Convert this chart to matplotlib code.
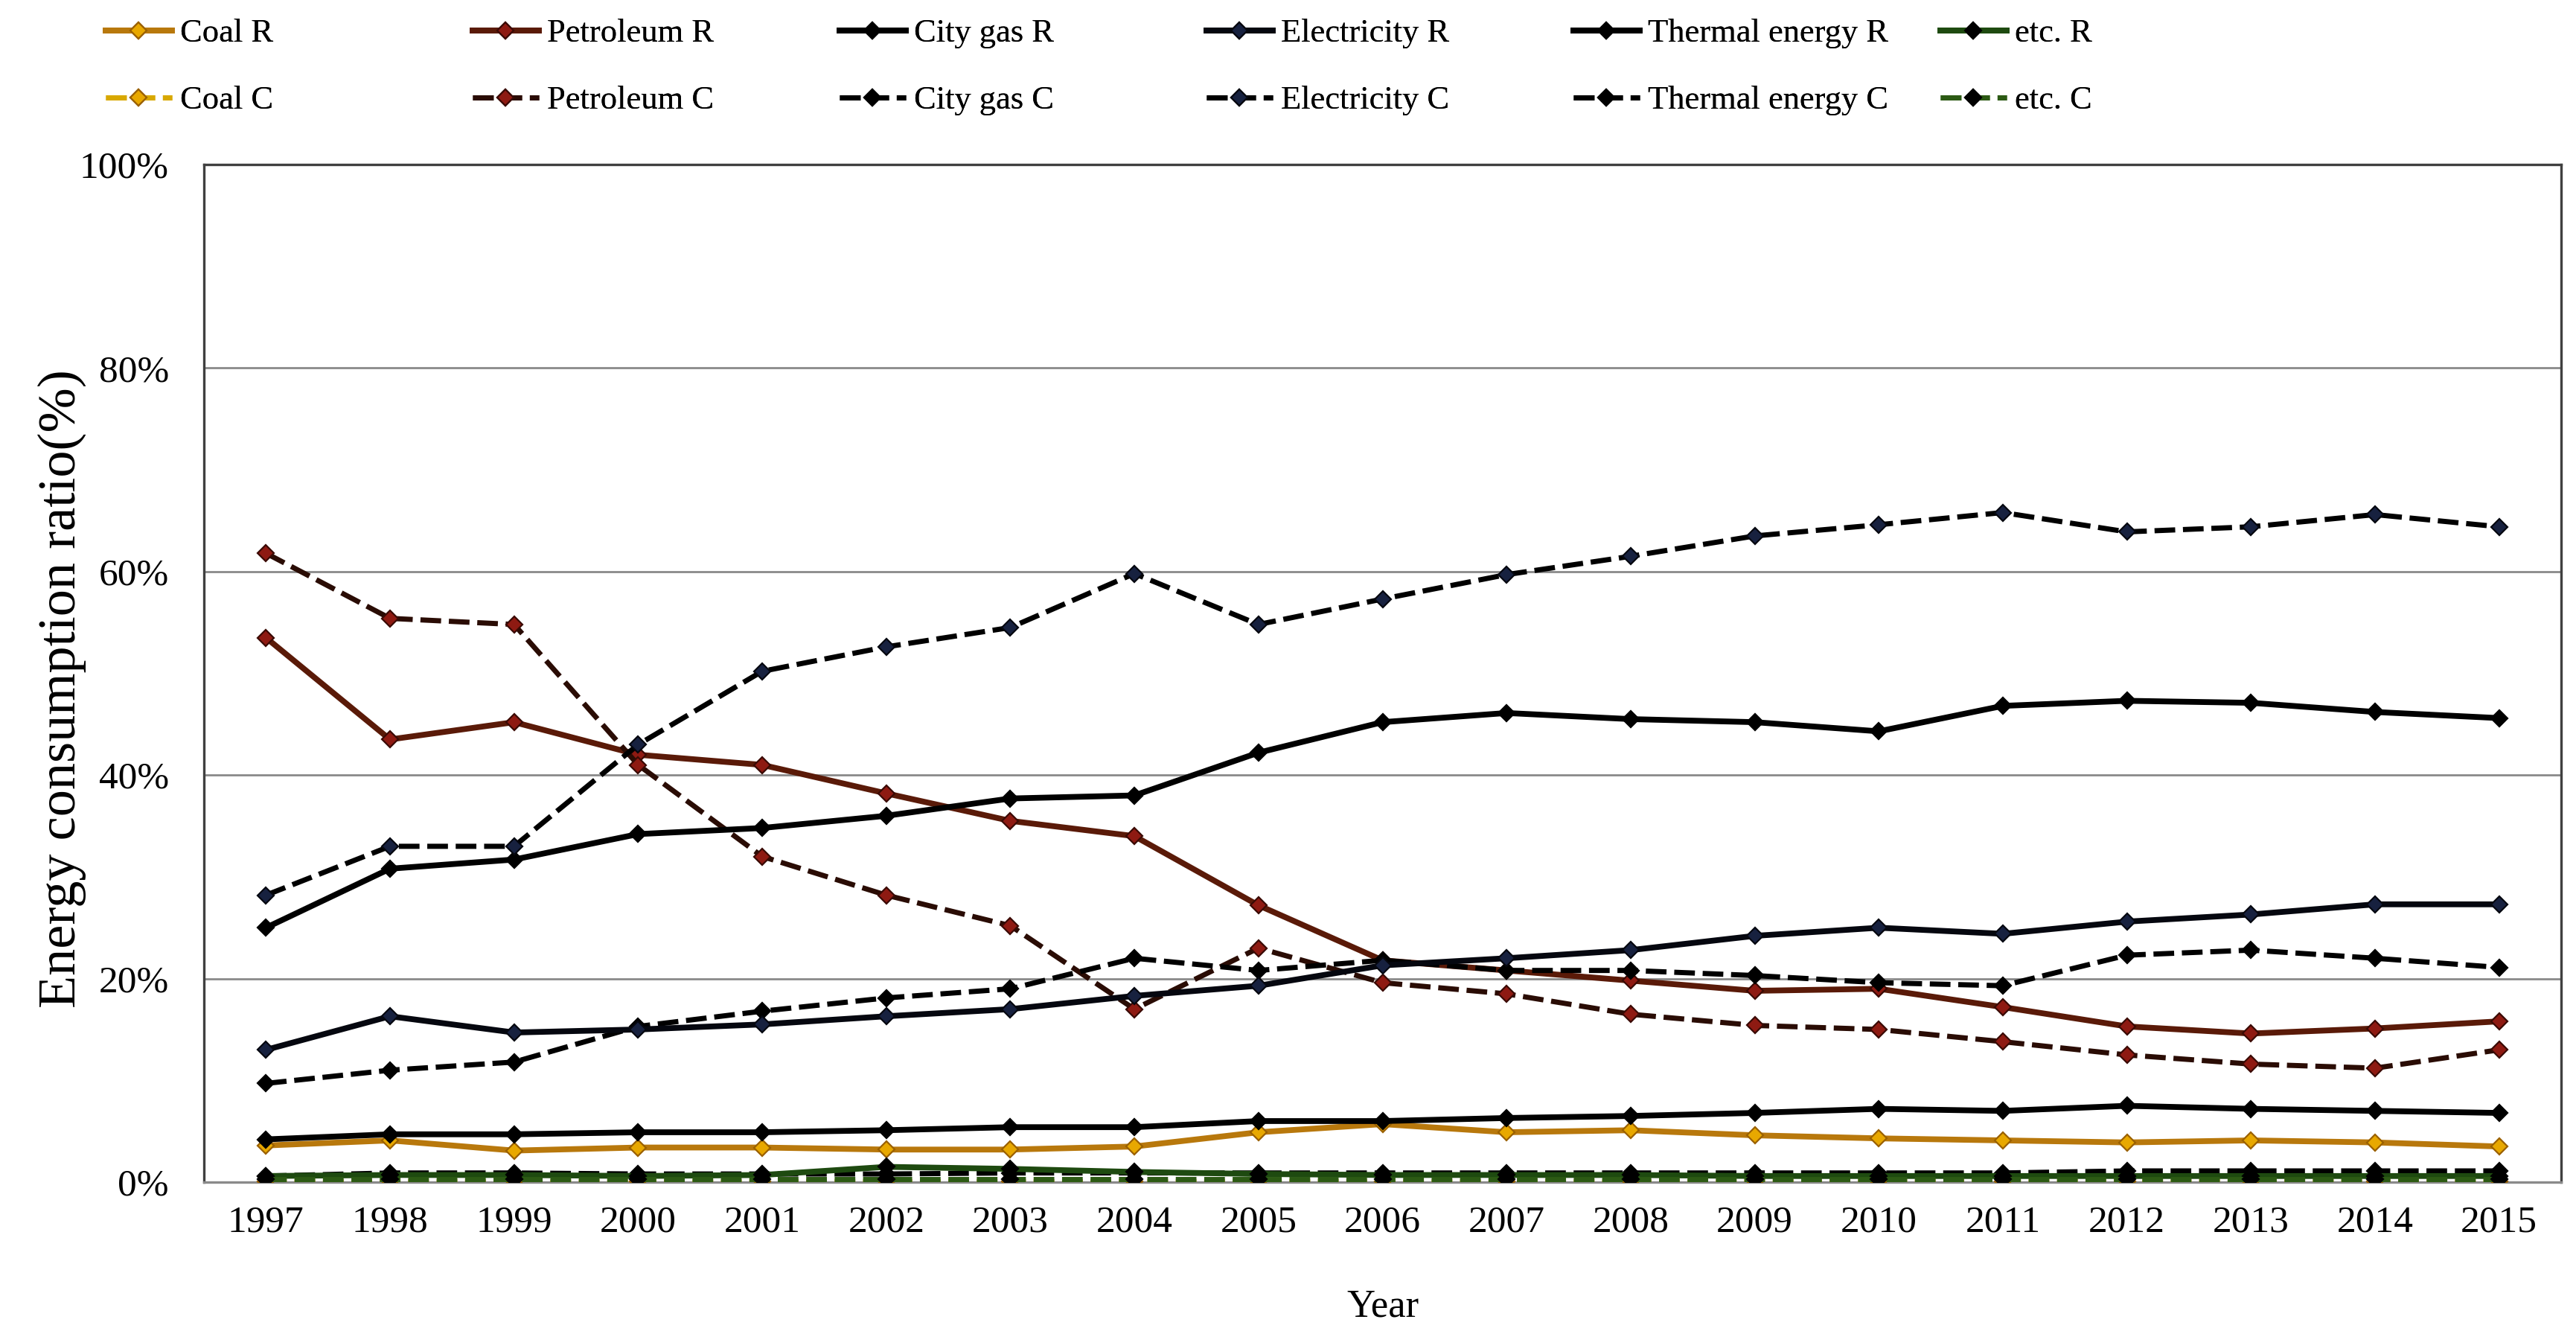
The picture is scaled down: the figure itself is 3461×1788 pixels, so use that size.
import matplotlib
matplotlib.use("Agg")
import matplotlib.pyplot as plt
from matplotlib.ticker import FixedLocator

years = list(range(1997, 2016))

coal_r        = [3.6, 4.1, 3.1, 3.4, 3.4, 3.2, 3.2, 3.5, 4.9, 5.7, 4.9, 5.1, 4.6, 4.3, 4.1, 3.9, 4.1, 3.9, 3.5]
coal_c        = [0.1, 0.1, 0.1, 0.1, 0.1, 0.1, 0.1, 0.1, 0.1, 0.1, 0.1, 0.1, 0.1, 0.1, 0.1, 0.1, 0.1, 0.1, 0.1]
petroleum_r   = [53.5, 43.5, 45.2, 42.0, 41.0, 38.2, 35.5, 34.0, 27.2, 21.8, 20.8, 19.8, 18.8, 19.0, 17.2, 15.3, 14.6, 15.1, 15.8]
petroleum_c   = [61.8, 55.4, 54.8, 41.0, 32.0, 28.2, 25.2, 17.0, 23.0, 19.6, 18.5, 16.5, 15.4, 15.0, 13.8, 12.5, 11.6, 11.2, 13.0]
citygas_r     = [25.0, 30.8, 31.7, 34.2, 34.8, 36.0, 37.7, 38.0, 42.2, 45.2, 46.1, 45.5, 45.2, 44.3, 46.8, 47.3, 47.1, 46.2, 45.6]
citygas_c     = [9.7, 11.0, 11.8, 15.3, 16.8, 18.1, 19.0, 22.0, 20.8, 21.8, 20.8, 20.8, 20.3, 19.6, 19.3, 22.3, 22.8, 22.0, 21.1]
electricity_r = [13.0, 16.3, 14.7, 15.0, 15.5, 16.3, 17.0, 18.3, 19.3, 21.3, 22.0, 22.8, 24.2, 25.0, 24.4, 25.6, 26.3, 27.3, 27.3]
electricity_c = [28.2, 33.0, 33.0, 43.0, 50.2, 52.6, 54.5, 59.8, 54.8, 57.3, 59.7, 61.5, 63.5, 64.6, 65.8, 63.9, 64.4, 65.6, 64.4]
thermal_r     = [4.2, 4.7, 4.7, 4.9, 4.9, 5.1, 5.4, 5.4, 6.0, 6.0, 6.3, 6.5, 6.8, 7.2, 7.0, 7.5, 7.2, 7.0, 6.8]
thermal_c     = [0.6, 0.9, 0.9, 0.8, 0.8, 0.8, 0.9, 0.9, 0.9, 0.9, 0.9, 0.9, 0.9, 0.9, 0.9, 1.1, 1.1, 1.1, 1.1]
etc_r         = [0.6, 0.7, 0.7, 0.6, 0.7, 1.5, 1.3, 1.0, 0.8, 0.7, 0.7, 0.7, 0.6, 0.6, 0.6, 0.6, 0.6, 0.6, 0.6]
etc_c         = [0.3, 0.3, 0.3, 0.3, 0.3, 0.3, 0.3, 0.3, 0.3, 0.3, 0.3, 0.3, 0.3, 0.3, 0.3, 0.3, 0.3, 0.3, 0.3]

y_ticks = [0, 20, 40, 60, 80, 100]
y_tick_labels = ["0%", "20%", "40%", "60%", "80%", "100%"]

series = [
    # label, values, line color, marker face, marker edge, dashed
    ("Coal R", coal_r, "#B8780C", "#E8A800", "#9A6000", False),
    ("Coal C", coal_c, "#D8A800", "#E8A800", "#9A6000", True),
    ("Petroleum R", petroleum_r, "#5A1A08", "#8E1A12", "#3A0A04", False),
    ("Petroleum C", petroleum_c, "#2A0C04", "#8E1A12", "#3A0A04", True),
    ("City gas R", citygas_r, "#000000", "#000000", "#000000", False),
    ("City gas C", citygas_c, "#000000", "#000000", "#000000", True),
    ("Electricity R", electricity_r, "#05070F", "#17213F", "#05070F", False),
    ("Electricity C", electricity_c, "#000000", "#17213F", "#05070F", True),
    ("Thermal energy R", thermal_r, "#000000", "#000000", "#000000", False),
    ("Thermal energy C", thermal_c, "#000000", "#000000", "#000000", True),
    ("etc. R", etc_r, "#1E4A10", "#000000", "#000000", False),
    ("etc. C", etc_c, "#2C5A14", "#000000", "#000000", True),
]

plt.rcParams["font.family"] = ["Liberation Serif", "DejaVu Serif"]

W, H = 3462, 1788
fig = plt.figure(figsize=(W / 200, H / 200), dpi=200)
ax = fig.add_axes([274 / W, 1 - 1588 / H, (3441 - 274) / W, (1588 - 221) / H])

handles = {}
for label, vals, lc, mfc, mec, dashed in series:
    kw = dict(color=lc, marker="D", markersize=5.5, markerfacecolor=mfc,
              markeredgecolor=mec, markeredgewidth=0.8, label=label, zorder=3)
    if dashed:
        (ln,) = ax.plot(years, vals, linewidth=2.5, linestyle=(0, (4, 1.5)), **kw)
    else:
        (ln,) = ax.plot(years, vals, linewidth=2.8, linestyle="-", **kw)
    handles[label] = ln

ax.set_xlim(1996.5, 2015.5)
ax.set_ylim(0, 100)
ax.set_xticks(years)
ax.set_xticklabels([str(y) for y in years])
ax.yaxis.set_major_locator(FixedLocator(y_ticks))
ax.set_yticklabels(y_tick_labels)
ax.tick_params(axis="both", length=0, labelsize=18.5)
ax.tick_params(axis="x", pad=11)
ax.tick_params(axis="y", pad=17)
ax.grid(axis="y", color="#8a8a8a", linewidth=1.0, zorder=0)
ax.set_axisbelow(True)
for s in ax.spines.values():
    s.set_color("#404040")
    s.set_linewidth(1.2)
ax.spines["bottom"].set_color("#8a8a8a")

ax.set_ylabel("Energy consumption ratio(%)", fontsize=26)
ax.yaxis.set_label_coords(-0.05, 0.485)
ax.set_xlabel("Year", fontsize=19)
ax.xaxis.set_label_coords(0.5, -0.105)

# legend: 6 equally spaced columns, R series on the top row, C series below
col_x_px = [142, 635, 1128, 1621, 2114, 2607]
row_y_px = [45, 135]
pairs = [("Coal R", "Coal C"), ("Petroleum R", "Petroleum C"), ("City gas R", "City gas C"),
         ("Electricity R", "Electricity C"), ("Thermal energy R", "Thermal energy C"), ("etc. R", "etc. C")]
for xp, pair in zip(col_x_px, pairs):
    for yp, name in zip(row_y_px, pair):
        leg = fig.legend([handles[name]], [name], loc="center left",
                         bbox_to_anchor=(xp / W, 1 - yp / H), frameon=False, fontsize=16,
                         handlelength=2.0, handletextpad=0.25,
                         borderaxespad=0, borderpad=0)
        fig.add_artist(leg)

fig.savefig("out.png", dpi=200)
